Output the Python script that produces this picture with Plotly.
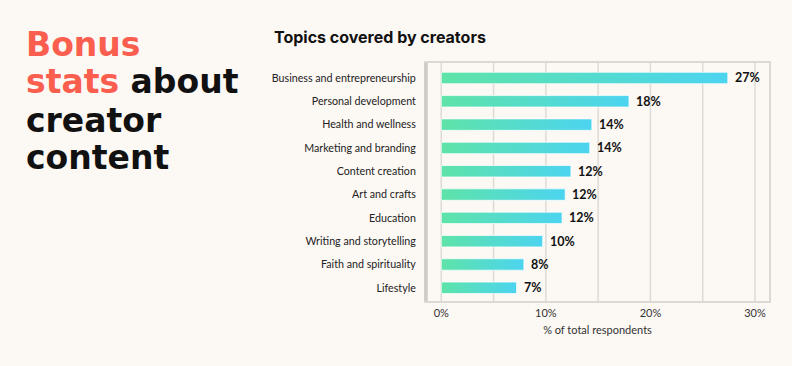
import plotly.graph_objects as go

categories = [
    "Business and entrepreneurship",
    "Personal development",
    "Health and wellness",
    "Marketing and branding",
    "Content creation",
    "Art and crafts",
    "Education",
    "Writing and storytelling",
    "Faith and spirituality",
    "Lifestyle",
]
values = [27.4, 17.95, 14.4, 14.2, 12.4, 11.85, 11.55, 9.7, 7.9, 7.2]
value_labels = ["27%", "18%", "14%", "14%", "12%", "12%", "12%", "10%", "8%", "7%"]
tick_vals = [0, 10, 20, 30]
tick_text = ["0%", "10%", "20%", "30%"]

BG = "#fcf8f4"
FONT = "Lato"
W, H = 792, 366
ML, MR, MT, MB = 426, 23, 63, 65
PW, PH = W - ML - MR, H - MT - MB

def px_x(px):
    return (px - ML) / PW

def px_y(py):
    return 1 - (py - MT) / PH

fig = go.Figure()

half = 0.245
for i, (c, v) in enumerate(zip(categories, values)):
    fig.add_trace(go.Scatter(
        x=[0, v, v, 0, 0],
        y=[i - half, i - half, i + half, i + half, i - half],
        mode="lines",
        fill="toself",
        fillgradient=dict(type="horizontal",
                          colorscale=[[0, "#5ee3a8"], [1, "#4cd4f0"]]),
        line=dict(color="rgba(255,255,255,0.7)", width=1),
        hoverinfo="text",
        text=f"{c}: {value_labels[i]}",
        showlegend=False,
    ))
    fig.add_annotation(x=v, y=i, text=f"<b>{value_labels[i]}</b>",
                       xanchor="left", yanchor="middle", xshift=5,
                       showarrow=False,
                       font=dict(family=FONT, size=12.5, color="#111111"))

fig.update_xaxes(
    range=[-1.46, 31.34],
    tickvals=tick_vals, ticktext=tick_text,
    showgrid=False,
    zeroline=False,
    showline=True, mirror=True, linecolor="#dcd8d4", linewidth=2,
    tickfont=dict(family=FONT, size=11, color="#333333"),
    ticks="", ticklabelstandoff=1,
    title=dict(text="% of total respondents", standoff=8,
               font=dict(family=FONT, size=11, color="#333333")),
)
fig.update_yaxes(
    range=[9.566, -0.643],
    tickvals=list(range(len(categories))), ticktext=categories,
    showgrid=False, zeroline=False,
    showline=True, mirror=True, linecolor="#dcd8d4", linewidth=2,
    tickfont=dict(family=FONT, size=10.7, color="#222222"),
    ticks="", ticklabelstandoff=6,
)

# vertical gridlines every 5%
for g in [0, 5, 10, 15, 20, 25, 30]:
    fig.add_shape(type="line", xref="x", yref="paper", x0=g, x1=g, y0=0, y1=1,
                  line=dict(color="#dedad6", width=1.5), layer="below")
# thicker left border
fig.add_shape(type="line", xref="paper", yref="paper", x0=0, x1=0, y0=0, y1=1,
              line=dict(color="#cfcbc7", width=3.5), layer="above")

# chart title
fig.add_annotation(xref="paper", yref="paper", x=px_x(272), y=px_y(37),
                   xanchor="left", yanchor="middle", showarrow=False,
                   text="<b>Topics covered by creators</b>",
                   font=dict(family="Inter", size=16, color="#111111"))

RED = "#fa5e4e"
BLACK = "#111111"
big_lines = [
    (f"<span style='color:{RED}'>Bonus</span>", 44),
    (f"<span style='color:{RED}'>stats</span> about", 81.5),
    ("creator", 120),
    ("content", 157.5),
]
for txt, py in big_lines:
    fig.add_annotation(xref="paper", yref="paper", x=px_x(24), y=px_y(py),
                       xanchor="left", yanchor="middle", showarrow=False,
                       text=f"<b>{txt}</b>",
                       font=dict(family="DejaVu Sans", size=33, color=BLACK))

fig.update_layout(
    width=W, height=H,
    margin=dict(l=ML, r=MR, t=MT, b=MB),
    paper_bgcolor=BG, plot_bgcolor=BG,
    showlegend=False,
)

fig.write_html("out.html",
               config={"displayModeBar": False},
               post_script="document.body.style.margin='0';document.body.style.padding='0';document.body.style.background='%s';" % BG)
